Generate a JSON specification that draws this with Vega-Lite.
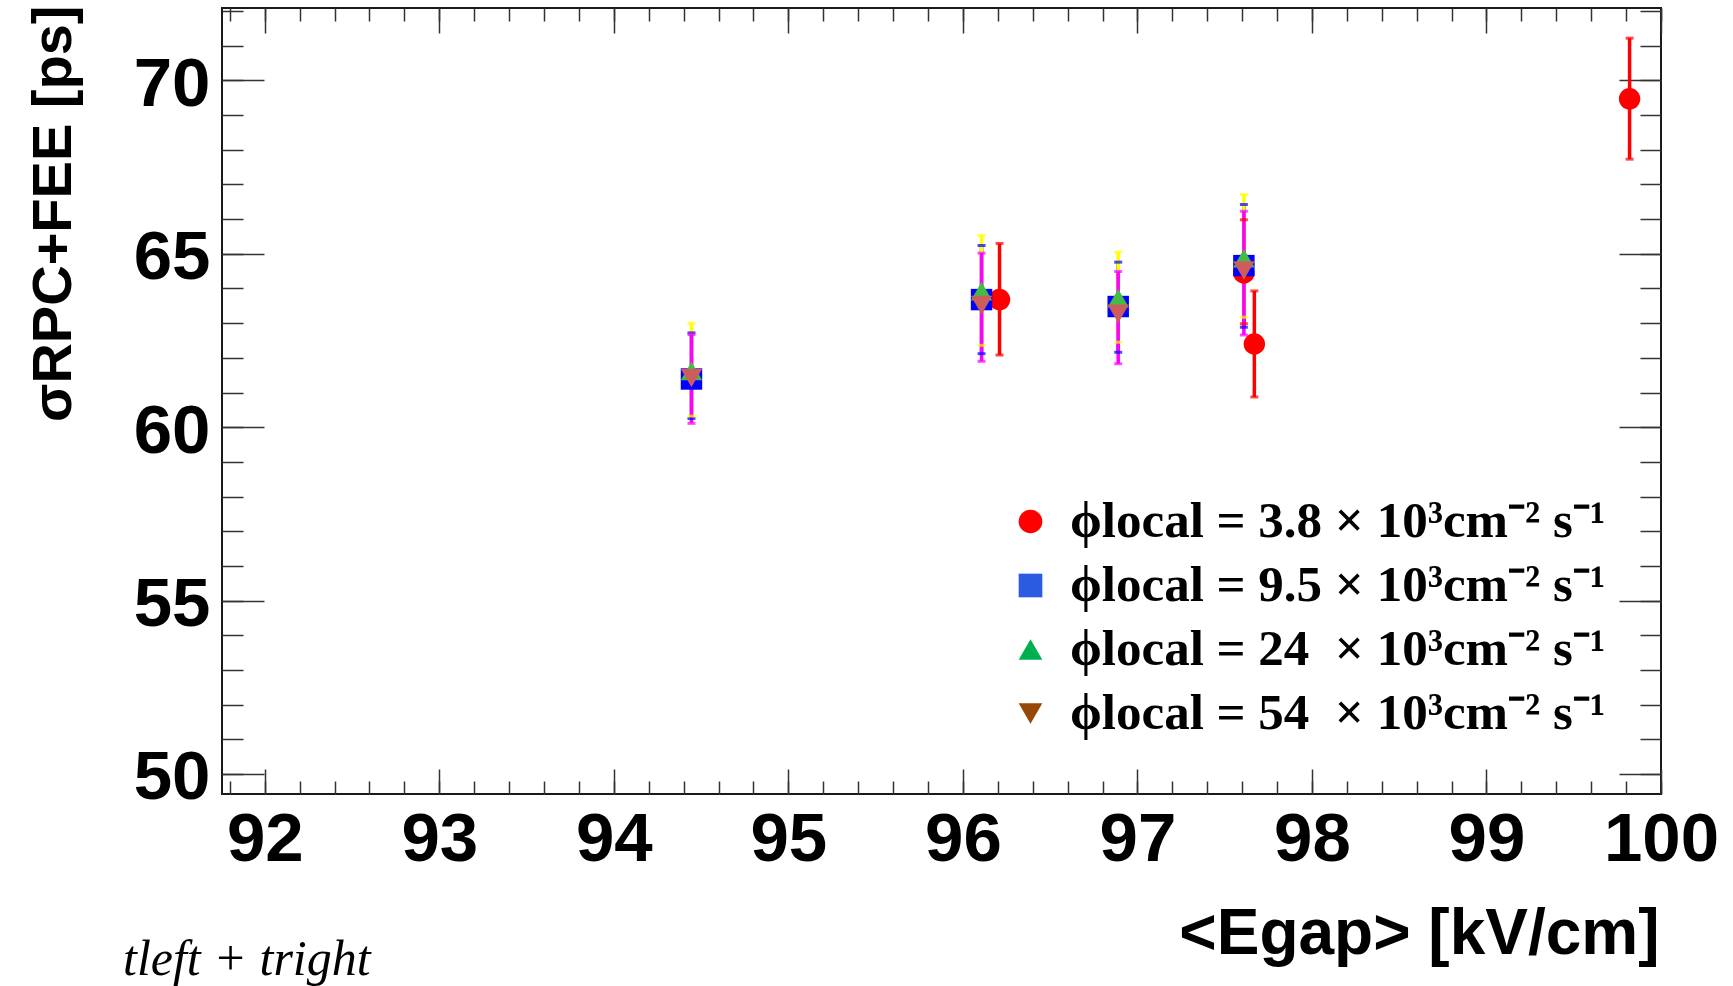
{
  "$schema": "https://vega.github.io/schema/vega-lite/v6.json",
  "width": 1439,
  "height": 786,
  "autosize": {"type": "none"},
  "padding": {"left": 222, "top": 8, "right": 72, "bottom": 192},
  "background": "white",
  "title": {"text": "tleft + tright", "orient": "bottom", "anchor": "start", "frame": "group", "font": "Liberation Serif", "fontStyle": "italic", "fontWeight": "normal", "fontSize": 50, "baseline": "alphabetic", "offset": 9, "dx": -99, "color": "#000"},
  "config": {
    "view": {"stroke": "#1a1a1a", "strokeWidth": 2},
    "font": "Liberation Sans",
    "axis": {"domain": false, "grid": false, "tickColor": "#333", "tickWidth": 1.5, "labelFont": "Liberation Sans", "labelFontWeight": "bold", "labelFontSize": 69, "labelColor": "#000", "titleFont": "Liberation Sans", "titleFontWeight": "bold", "titleColor": "#000"}
  },
  "data": {"values": [
    {"series": "ϕlocal = 3.8 × 10³cm⁻² s⁻¹", "x": 96.21, "y": 63.68, "lo": 62.08, "hi": 65.30},
    {"series": "ϕlocal = 3.8 × 10³cm⁻² s⁻¹", "x": 97.61, "y": 64.45, "lo": 62.98, "hi": 65.98},
    {"series": "ϕlocal = 3.8 × 10³cm⁻² s⁻¹", "x": 97.67, "y": 62.40, "lo": 60.87, "hi": 63.93},
    {"series": "ϕlocal = 3.8 × 10³cm⁻² s⁻¹", "x": 99.82, "y": 69.47, "lo": 67.73, "hi": 71.22},
    {"series": "ϕlocal = 9.5 × 10³cm⁻² s⁻¹", "x": 94.445, "y": 61.39, "lo": 60.25, "hi": 62.72},
    {"series": "ϕlocal = 9.5 × 10³cm⁻² s⁻¹", "x": 96.107, "y": 63.68, "lo": 62.12, "hi": 65.24},
    {"series": "ϕlocal = 9.5 × 10³cm⁻² s⁻¹", "x": 96.89, "y": 63.48, "lo": 62.16, "hi": 64.76},
    {"series": "ϕlocal = 9.5 × 10³cm⁻² s⁻¹", "x": 97.61, "y": 64.66, "lo": 62.88, "hi": 66.42},
    {"series": "ϕlocal = 24\u00a0\u00a0× 10³cm⁻² s⁻¹", "x": 94.445, "y": 61.62, "lo": 60.32, "hi": 63.00},
    {"series": "ϕlocal = 24\u00a0\u00a0× 10³cm⁻² s⁻¹", "x": 96.107, "y": 63.92, "lo": 62.36, "hi": 65.53},
    {"series": "ϕlocal = 24\u00a0\u00a0× 10³cm⁻² s⁻¹", "x": 96.89, "y": 63.72, "lo": 62.45, "hi": 65.05},
    {"series": "ϕlocal = 24\u00a0\u00a0× 10³cm⁻² s⁻¹", "x": 97.61, "y": 64.87, "lo": 63.17, "hi": 66.71},
    {"series": "ϕlocal = 54\u00a0\u00a0× 10³cm⁻² s⁻¹", "x": 94.445, "y": 61.42, "lo": 60.11, "hi": 62.67},
    {"series": "ϕlocal = 54\u00a0\u00a0× 10³cm⁻² s⁻¹", "x": 96.107, "y": 63.52, "lo": 61.90, "hi": 65.02},
    {"series": "ϕlocal = 54\u00a0\u00a0× 10³cm⁻² s⁻¹", "x": 96.89, "y": 63.27, "lo": 61.83, "hi": 64.49},
    {"series": "ϕlocal = 54\u00a0\u00a0× 10³cm⁻² s⁻¹", "x": 97.61, "y": 64.52, "lo": 62.66, "hi": 66.23}
  ]},
  "layer": [
    {
      "mark": {"type": "rule", "strokeWidth": 3.5},
      "encoding": {
        "x": {"field": "x", "type": "quantitative", "scale": {"domain": [91.755, 100.0], "nice": false, "zero": false},
          "axis": {"orient": "bottom", "values": [92, 93, 94, 95, 96, 97, 98, 99, 100], "tickSize": -25, "labelPadding": 36, "format": "d", "labelFlush": false, "labelOverlap": false,
            "title": "<Egap> [kV/cm]", "titleFontSize": 64, "titleAlign": "right", "titleAnchor": "end", "titleBaseline": "alphabetic", "titleX": 1437, "titleY": 159}},
        "y": {"field": "lo", "type": "quantitative", "scale": {"domain": [49.42, 72.09], "nice": false, "zero": false},
          "axis": {"orient": "left", "values": [50, 55, 60, 65, 70], "tickSize": -42, "labelPadding": 54, "labelOffset": 4, "format": "d", "labelOverlap": false,
            "title": "σRPC+FEE [ps]", "titleFontSize": 56, "titleAngle": 270, "titleAlign": "right", "titleBaseline": "alphabetic", "titleX": -152, "titleY": -3}},
        "y2": {"field": "hi"},
        "color": {"field": "series", "type": "nominal", "sort": null, "scale": {"range": ["#ff0000", "#0000ff", "#ffff00", "#ff00ff"]}, "legend": null}
      }
    },
    {
      "mark": {"type": "tick", "orient": "horizontal", "size": 8, "thickness": 3},
      "encoding": {
        "x": {"field": "x", "type": "quantitative", "scale": {"domain": [91.755, 100.0], "nice": false, "zero": false},
          "axis": {"orient": "bottom", "values": [91.8, 92, 92.2, 92.4, 92.6, 92.8, 93, 93.2, 93.4, 93.6, 93.8, 94, 94.2, 94.4, 94.6, 94.8, 95, 95.2, 95.4, 95.6, 95.8, 96, 96.2, 96.4, 96.6, 96.8, 97, 97.2, 97.4, 97.6, 97.8, 98, 98.2, 98.4, 98.6, 98.8, 99, 99.2, 99.4, 99.6, 99.8, 100], "tickSize": -13, "labels": false, "title": null}},
        "y": {"field": "lo", "type": "quantitative", "scale": {"domain": [49.42, 72.09], "nice": false, "zero": false},
          "axis": {"orient": "left", "values": [50, 51, 52, 53, 54, 55, 56, 57, 58, 59, 60, 61, 62, 63, 64, 65, 66, 67, 68, 69, 70, 71, 72], "tickSize": -21, "labels": false, "title": null}},
        "color": {"field": "series", "type": "nominal", "sort": null, "scale": {"range": ["#ff0000", "#0000ff", "#ffff00", "#ff00ff"]}, "legend": null}
      }
    },
    {
      "mark": {"type": "tick", "orient": "horizontal", "size": 8, "thickness": 3},
      "encoding": {
        "x": {"field": "x", "type": "quantitative", "scale": {"domain": [91.755, 100.0], "nice": false, "zero": false},
          "axis": {"orient": "top", "values": [92, 93, 94, 95, 96, 97, 98, 99, 100], "tickSize": -25, "labels": false, "title": null}},
        "y": {"field": "hi", "type": "quantitative", "scale": {"domain": [49.42, 72.09], "nice": false, "zero": false},
          "axis": {"orient": "right", "values": [50, 55, 60, 65, 70], "tickSize": -42, "labels": false, "title": null}},
        "color": {"field": "series", "type": "nominal", "sort": null, "scale": {"range": ["#ff0000", "#0000ff", "#ffff00", "#ff00ff"]}, "legend": null}
      }
    },
    {
      "mark": {"type": "point", "filled": true, "size": 460, "opacity": 1, "strokeWidth": 0},
      "encoding": {
        "x": {"field": "x", "type": "quantitative", "scale": {"domain": [91.755, 100.0], "nice": false, "zero": false},
          "axis": {"orient": "top", "values": [91.8, 92, 92.2, 92.4, 92.6, 92.8, 93, 93.2, 93.4, 93.6, 93.8, 94, 94.2, 94.4, 94.6, 94.8, 95, 95.2, 95.4, 95.6, 95.8, 96, 96.2, 96.4, 96.6, 96.8, 97, 97.2, 97.4, 97.6, 97.8, 98, 98.2, 98.4, 98.6, 98.8, 99, 99.2, 99.4, 99.6, 99.8, 100], "tickSize": -13, "labels": false, "title": null}},
        "y": {"field": "y", "type": "quantitative", "scale": {"domain": [49.42, 72.09], "nice": false, "zero": false},
          "axis": {"orient": "right", "values": [50, 51, 52, 53, 54, 55, 56, 57, 58, 59, 60, 61, 62, 63, 64, 65, 66, 67, 68, 69, 70, 71, 72], "tickSize": -21, "labels": false, "title": null}},
        "color": {"field": "series", "type": "nominal", "sort": null, "scale": {"range": ["#ff0000", "#0000ff", "#44bb44", "#cd5c5c"]}, "legend": null},
        "shape": {"field": "series", "type": "nominal", "sort": null, "scale": {"range": ["circle", "square", "triangle-up", "triangle-down"]}, "legend": null}
      }
    },
    {
      "mark": {"type": "point", "filled": true, "size": 450, "opacity": 0, "strokeWidth": 0},
      "encoding": {
        "x": {"field": "x", "type": "quantitative", "scale": {"domain": [91.755, 100.0], "nice": false, "zero": false}, "axis": null},
        "y": {"field": "y", "type": "quantitative", "scale": {"domain": [49.42, 72.09], "nice": false, "zero": false}, "axis": null},
        "color": {"field": "series", "type": "nominal", "sort": null, "scale": {"range": ["#ff0000", "#2b5be0", "#00b050", "#974706"]},
          "legend": {"orient": "none", "legendX": 783, "legendY": 488, "title": null, "padding": 0, "labelFont": "Liberation Serif", "labelFontSize": 51, "labelFontWeight": "bold", "labelColor": "#000", "symbolSize": 560, "symbolOpacity": 1, "symbolStrokeWidth": 0, "rowPadding": 12, "labelOffset": 14, "labelLimit": 1000}},
        "shape": {"field": "series", "type": "nominal", "sort": null, "scale": {"range": ["circle", "square", "triangle-up", "triangle-down"]},
          "legend": {"orient": "none", "legendX": 783, "legendY": 488, "title": null, "padding": 0, "labelFont": "Liberation Serif", "labelFontSize": 51, "labelFontWeight": "bold", "labelColor": "#000", "symbolSize": 560, "symbolOpacity": 1, "symbolStrokeWidth": 0, "rowPadding": 12, "labelOffset": 14, "labelLimit": 1000}}
      }
    }
  ],
  "resolve": {"axis": {"x": "independent", "y": "independent"}, "scale": {"color": "independent", "shape": "independent"}}
}
